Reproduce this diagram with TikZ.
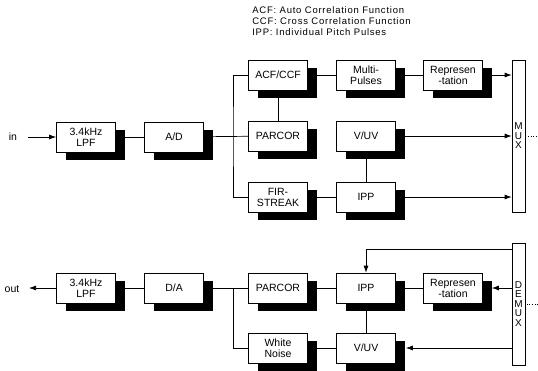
\documentclass[tikz,border=0pt]{standalone}
\usepackage{fontspec}
\setmainfont{Liberation Sans}
\usepackage{tikz}
\usetikzlibrary{arrows.meta,positioning,shadows,calc}
\tikzset{
  blk/.style={draw, fill=white, line width=0.7pt, minimum width=59pt, minimum height=30pt,
    inner sep=1pt, align=center,
    general shadow={fill=black, shadow xshift=9pt, shadow yshift=-8pt}},
  bar/.style={draw, fill=white, line width=0.7pt, minimum width=13pt, inner sep=0pt,
    align=center, font=\fontsize{10}{9.5}\selectfont},
  arr/.style={-{Latex[length=7pt,width=5pt]}}
}

\begin{document}
\begin{tikzpicture}[x=1pt, y=-1pt, line width=0.7pt,
    every node/.style={font=\fontsize{10.5}{11}\selectfont}]
        \useasboundingbox (0,0) rectangle (538,370);
        \node[anchor=north west, align=left, inner sep=0pt,
          font=\fontsize{9.5}{11.3}\selectfont\addfontfeature{LetterSpace=8}] (legend) at (252,6)
          {ACF: Auto Correlation Function\\CCF: Cross Correlation Function\\IPP: Individual Pitch Pulses};
        \node[blk] (lpf1)    at (86,137)  {3.4kHz\\LPF};
        \node[blk] (ad1)     at (174,137) {A/D};
        \node[blk] (acf)     at (278,75)  {ACF/CCF};
        \node[blk] (parcor1) at (278,136) {PARCOR};
        \node[blk] (fir)     at (278,197) {FIR-\\STREAK};
        \node[blk] (multi)   at (366,75)  {Multi-\\Pulses};
        \node[blk] (vuv1)    at (366,136) {V/UV};
        \node[blk] (ipp1)    at (366,197) {IPP};
        \node[blk] (rep1)    at (453,75)  {Represen\\-tation};
        \node[bar, minimum height=152pt] (mux) at (518.5,136) {M\\U\\X};
        \node (in) at (13,137) {in};
        \coordinate (inend) at (28,137);
        \coordinate (bus1) at (233,137);
        \coordinate (muxout) at (538,136);
        \draw[arr] (inend) -- (lpf1);
        \draw (lpf1) -- (ad1);
        \draw (ad1) -- (parcor1);
        \draw (acf) -| (bus1) |- (fir);
        \draw (acf) -- (parcor1);
        \draw (acf) -- (multi);
        \draw (multi) -- (rep1);
        \draw (vuv1) -- (ipp1);
        \draw (fir) -- (ipp1);
        \foreach \b in {rep1,vuv1,ipp1}
          \draw[arr] (\b) -- (\b -| mux.west);
        \draw[dotted] (mux) -- (muxout);
        \node[blk] (lpf2)    at (86,288)  {3.4kHz\\LPF};
        \node[blk] (da)      at (174,288) {D/A};
        \node[blk] (parcor2) at (278,288) {PARCOR};
        \node[blk] (wn)      at (278,348) {White\\Noise};
        \node[blk] (ipp2)    at (366,288) {IPP};
        \node[blk] (vuv2)    at (366,348) {V/UV};
        \node[blk] (rep2)    at (453,288) {Represen\\-tation};
        \node[bar, minimum height=122pt] (demux) at (518.5,304) {D\\E\\M\\U\\X};
        \node (out) at (12,289) {out};
        \coordinate (outend) at (29,288);
        \coordinate (bus2) at (233,288);
        \coordinate (tap) at (512,249);
        \coordinate (demuxin) at (538,304);
        \draw[arr] (lpf2) -- (outend);
        \draw (da) -- (lpf2);
        \draw (da) -- (parcor2);
        \draw (bus2) |- (wn);
        \draw (parcor2) -- (ipp2);
        \draw (ipp2) -- (rep2);
        \draw (ipp2) -- (vuv2);
        \draw (vuv2) -- (wn);
        \draw[arr] (tap) -| (ipp2);
        \draw[arr, shorten >=9pt] (demux.west |- rep2) -- (rep2.east);
        \draw[arr, shorten >=10pt] (demux.west |- vuv2) -- (vuv2.east);
        \draw[dotted] (demuxin) -- (demux);
\end{tikzpicture}
\end{document}
